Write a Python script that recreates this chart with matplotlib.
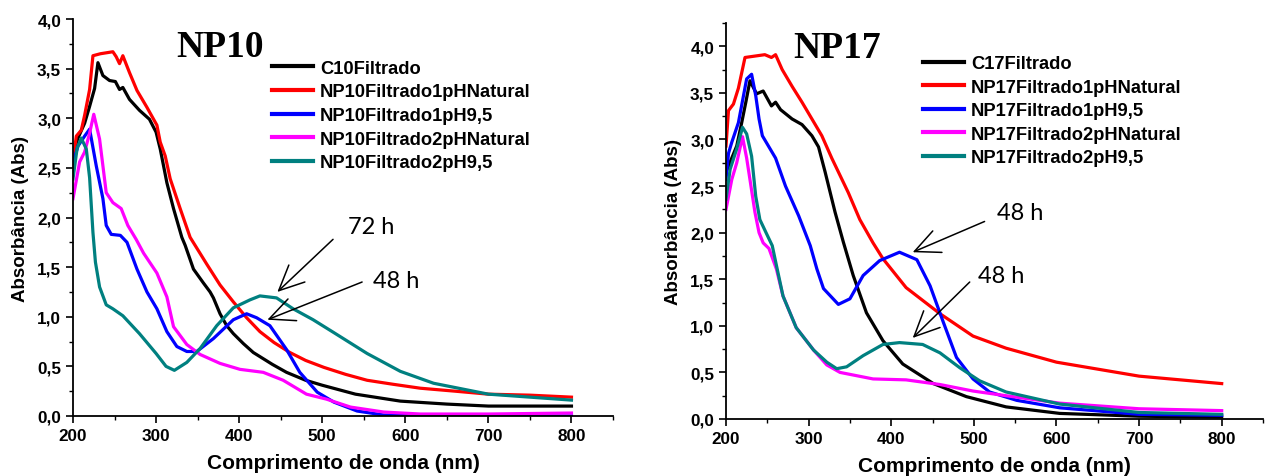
import matplotlib
matplotlib.use("Agg")
import matplotlib.pyplot as plt
from matplotlib.ticker import FixedLocator, MultipleLocator

# ---------------- data ----------------
x_ticks = [200, 300, 400, 500, 600, 700, 800]
x_tick_labels = ["200", "300", "400", "500", "600", "700", "800"]
y_ticks = [0.0, 0.5, 1.0, 1.5, 2.0, 2.5, 3.0, 3.5, 4.0]
y_tick_labels = ["0,0", "0,5", "1,0", "1,5", "2,0", "2,5", "3,0", "3,5", "4,0"]

labels_np10 = ["C10Filtrado", "NP10Filtrado1pHNatural", "NP10Filtrado1pH9,5",
               "NP10Filtrado2pHNatural", "NP10Filtrado2pH9,5"]
labels_np17 = ["C17Filtrado", "NP17Filtrado1pHNatural", "NP17Filtrado1pH9,5",
               "NP17Filtrado2pHNatural", "NP17Filtrado2pH9,5"]

# NP10 panel
c10_x = [200, 206, 214, 220, 226, 230, 236, 244, 251, 256, 260, 268, 280, 292, 300, 305, 313, 321, 331,
         335, 345, 357, 365, 369, 377, 385, 393, 405, 417, 440, 457, 480, 500, 540, 594, 650, 700, 750, 800]
c10_y = [2.65, 2.80, 2.95, 3.12, 3.30, 3.56, 3.43, 3.38, 3.37, 3.29, 3.31, 3.19, 3.08, 2.99, 2.86, 2.69,
         2.35, 2.09, 1.80, 1.72, 1.48, 1.34, 1.25, 1.19, 1.03, 0.91, 0.83, 0.73, 0.64, 0.52, 0.44, 0.36,
         0.31, 0.22, 0.15, 0.12, 0.10, 0.10, 0.10]

r10_x = [200, 204, 210, 214, 220, 224, 233, 248, 252, 256, 260, 268, 277, 289, 301, 305, 311, 317, 329,
         341, 361, 377, 393, 409, 425, 442, 461, 480, 502, 528, 554, 585, 618, 660, 700, 750, 800]
r10_y = [2.57, 2.82, 2.88, 3.03, 3.29, 3.63, 3.65, 3.67, 3.62, 3.55, 3.63, 3.46, 3.28, 3.11, 2.93, 2.76,
         2.62, 2.39, 2.09, 1.80, 1.53, 1.32, 1.15, 0.99, 0.85, 0.74, 0.64, 0.56, 0.49, 0.42, 0.36, 0.32,
         0.28, 0.25, 0.22, 0.21, 0.19]

b10_x = [200, 206, 214, 220, 228, 236, 240, 246, 257, 265, 277, 289, 301, 313, 325, 337, 349, 369, 393,
         409, 421, 437, 457, 473, 494, 514, 542, 574, 650, 800]
b10_y = [2.55, 2.72, 2.82, 2.89, 2.52, 2.19, 1.92, 1.83, 1.82, 1.75, 1.48, 1.25, 1.08, 0.85, 0.70, 0.65,
         0.65, 0.78, 0.97, 1.03, 0.99, 0.91, 0.67, 0.44, 0.24, 0.14, 0.05, 0.01, 0.0, 0.0]

m10_x = [200, 208, 214, 220, 225, 232, 240, 248, 258, 266, 276, 285, 301, 313, 321, 337, 353, 377, 401,
         429, 453, 481, 505, 534, 574, 618, 700, 800]
m10_y = [2.19, 2.56, 2.66, 2.85, 3.04, 2.79, 2.25, 2.15, 2.09, 1.92, 1.78, 1.64, 1.44, 1.20, 0.90, 0.72,
         0.62, 0.53, 0.47, 0.44, 0.36, 0.22, 0.17, 0.09, 0.04, 0.02, 0.02, 0.03]

t10_x = [200, 205, 210, 216, 220, 224, 227, 232, 240, 248, 260, 280, 300, 312, 322, 337, 353, 373, 393,
         413, 425, 445, 465, 489, 514, 554, 594, 634, 700, 800]
t10_y = [2.39, 2.70, 2.80, 2.69, 2.40, 1.85, 1.55, 1.30, 1.12, 1.08, 1.01, 0.83, 0.63, 0.50, 0.46, 0.54,
         0.68, 0.91, 1.09, 1.17, 1.21, 1.19, 1.08, 0.97, 0.84, 0.63, 0.45, 0.33, 0.22, 0.16]

# NP17 panel
c17_x = [200, 213, 219, 224, 229, 237, 245, 255, 260, 266, 280, 292, 304, 312, 320, 332, 342, 354, 370,
         390, 414, 451, 491, 539, 604, 700, 800]
c17_y = [2.65, 2.93, 3.18, 3.40, 3.63, 3.49, 3.52, 3.36, 3.40, 3.32, 3.22, 3.16, 3.04, 2.92, 2.65, 2.22,
         1.90, 1.54, 1.14, 0.84, 0.59, 0.38, 0.24, 0.13, 0.06, 0.03, 0.02]

r17_x = [200, 203, 209, 215, 223, 247, 255, 260, 268, 280, 292, 304, 316, 328, 348, 362, 378, 390, 418,
         459, 499, 539, 600, 700, 800]
r17_y = [2.93, 3.31, 3.38, 3.55, 3.88, 3.91, 3.88, 3.91, 3.75, 3.57, 3.40, 3.22, 3.04, 2.80, 2.43, 2.14,
         1.89, 1.72, 1.41, 1.13, 0.89, 0.76, 0.61, 0.46, 0.38]

b17_x = [200, 203, 207, 215, 225, 231, 236, 240, 244, 260, 272, 288, 302, 310, 318, 336, 350, 366, 386,
         410, 431, 447, 463, 479, 499, 519, 552, 604, 700, 800]
b17_y = [2.57, 2.85, 2.97, 3.18, 3.65, 3.70, 3.47, 3.22, 3.04, 2.80, 2.50, 2.18, 1.86, 1.61, 1.40, 1.23,
         1.29, 1.54, 1.70, 1.79, 1.71, 1.43, 1.04, 0.66, 0.43, 0.29, 0.20, 0.12, 0.05, 0.04]

m17_x = [200, 207, 213, 220, 225, 229, 235, 240, 245, 252, 261, 269, 285, 306, 322, 338, 378, 418, 459,
         499, 539, 604, 700, 800]
m17_y = [2.25, 2.57, 2.75, 3.03, 2.80, 2.57, 2.22, 2.00, 1.89, 1.83, 1.61, 1.32, 0.98, 0.74, 0.58, 0.50,
         0.43, 0.42, 0.37, 0.30, 0.25, 0.17, 0.11, 0.09]

t17_x = [200, 205, 213, 220, 225, 231, 236, 241, 249, 256, 261, 269, 285, 306, 322, 334, 346, 366, 390,
         410, 438, 459, 483, 507, 539, 604, 700, 800]
t17_y = [2.36, 2.68, 2.90, 3.13, 3.06, 2.82, 2.39, 2.14, 1.99, 1.86, 1.65, 1.32, 0.98, 0.74, 0.61, 0.54,
         0.56, 0.68, 0.80, 0.82, 0.80, 0.71, 0.55, 0.41, 0.29, 0.16, 0.07, 0.05]

colors = ["#000000", "#FF0000", "#0000FF", "#FF00FF", "#008080"]

# ---------------- figure ----------------
SANS = "Liberation Sans"
fig = plt.figure(figsize=(12.65, 4.77), dpi=100)
axL = fig.add_axes([73 / 1265, 1 - 417 / 477, (613 - 73) / 1265, (417 - 20) / 477])
axR = fig.add_axes([726 / 1265, 1 - 420 / 477, (1263 - 726) / 1265, (420 - 24) / 477])


def style(ax, ymax):
    ax.set_xlim(200, 850)
    ax.set_ylim(0, ymax)
    for s in ["top", "right"]:
        ax.spines[s].set_visible(False)
    for s in ["left", "bottom"]:
        ax.spines[s].set_linewidth(1.3)
    ax.xaxis.set_major_locator(FixedLocator(x_ticks))
    ax.set_xticklabels(x_tick_labels)
    ax.xaxis.set_minor_locator(MultipleLocator(50))
    ax.yaxis.set_major_locator(FixedLocator(y_ticks))
    ax.set_yticklabels(y_tick_labels)
    ax.yaxis.set_minor_locator(MultipleLocator(0.25))
    ax.tick_params(which="major", direction="out", length=5, width=1.2, pad=3.5,
                   labelsize=12.3)
    ax.tick_params(which="minor", direction="out", length=3, width=1.0)
    for lab in ax.get_xticklabels() + ax.get_yticklabels():
        lab.set_fontweight("bold")
        lab.set_fontfamily(SANS)
    ax.set_xlabel("Comprimento de onda (nm)", fontsize=15, fontweight="bold",
                  fontfamily=SANS, labelpad=7)
    ax.set_ylabel("Absorbância (Abs)", fontsize=13.5, fontweight="bold",
                  fontfamily=SANS, labelpad=6)


def legend(ax, anchor):
    leg = ax.legend(loc="upper left", bbox_to_anchor=anchor, frameon=False,
                    prop={"family": SANS, "weight": "bold", "size": 13.2},
                    handlelength=2.24, handletextpad=0.38, labelspacing=0.36,
                    borderpad=0, borderaxespad=0)
    for l in leg.get_lines():
        l.set_linewidth(3)


def arrow(ax, start, tip):
    ax.annotate("", xy=tip, xytext=start,
                arrowprops=dict(arrowstyle="->,head_length=0.9,head_width=0.42",
                                color="black", lw=1.1, mutation_scale=20,
                                shrinkA=0, shrinkB=0))


# Left panel
for xs, ys, c, lab in zip([c10_x, r10_x, b10_x, m10_x, t10_x],
                          [c10_y, r10_y, b10_y, m10_y, t10_y], colors, labels_np10):
    axL.plot(xs, ys, color=c, lw=2.3, label=lab, solid_joinstyle="round")
style(axL, 4.0)
legend(axL, (0.3685, 0.897))
axL.text(377, 3.72, "NP10", fontsize=27, fontweight="bold", fontfamily="Liberation Serif",
         ha="center", va="center")
arrow(axL, (513, 1.78), (446, 1.25))
axL.text(531, 1.91, "72 h", fontsize=17, fontfamily="Lato", ha="left", va="center")
arrow(axL, (548, 1.35), (434, 0.97))
axL.text(561, 1.37, "48 h", fontsize=17, fontfamily="Lato", ha="left", va="center")

# Right panel
for xs, ys, c, lab in zip([c17_x, r17_x, b17_x, m17_x, t17_x],
                          [c17_y, r17_y, b17_y, m17_y, t17_y], colors, labels_np17):
    axR.plot(xs, ys, color=c, lw=2.3, label=lab, solid_joinstyle="round")
style(axR, 4.25)
legend(axR, (0.367, 0.919))
axR.text(334, 3.99, "NP17", fontsize=27, fontweight="bold", fontfamily="Liberation Serif",
         ha="center", va="center")
arrow(axR, (513, 2.12), (426, 1.79))
axR.text(528, 2.22, "48 h", fontsize=17, fontfamily="Lato", ha="left", va="center")
arrow(axR, (495, 1.47), (426, 0.87))
axR.text(505, 1.54, "48 h", fontsize=17, fontfamily="Lato", ha="left", va="center")

fig.savefig("out.png", dpi=100)
